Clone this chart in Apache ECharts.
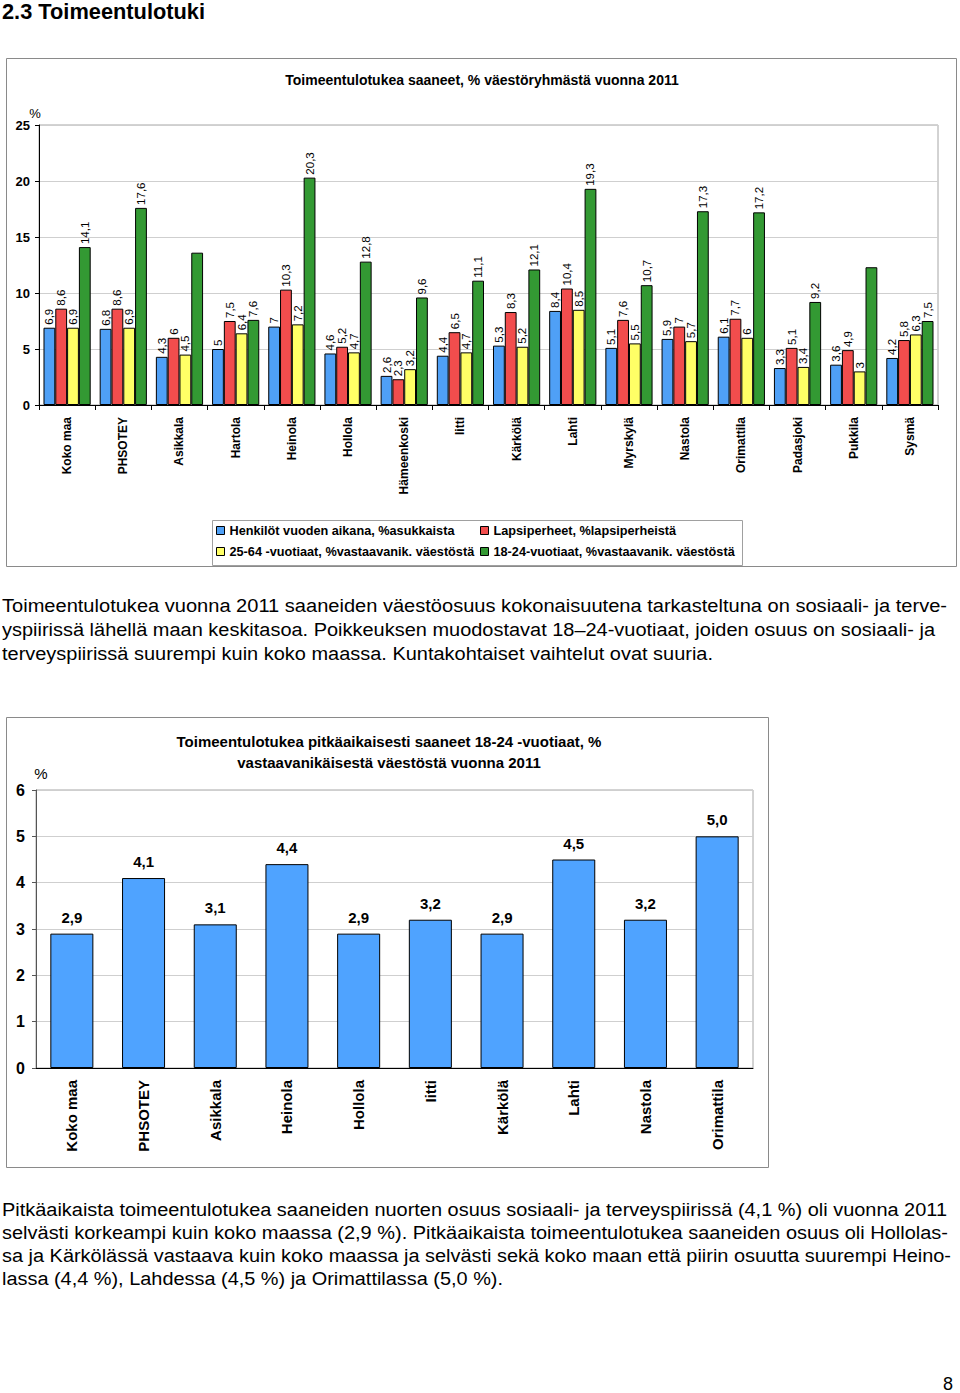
<!DOCTYPE html>
<html>
<head>
<meta charset="utf-8">
<script src="https://cdn.jsdelivr.net/npm/echarts@6/dist/echarts.min.js"></script>
<style>
  html, body { margin:0; padding:0; background:#fff; }
  body { width:960px; height:1393px; position:relative; overflow:hidden; font-family:'Liberation Sans', Arial, sans-serif; color:#000; }
  #chart { position:absolute; left:0; top:0; width:960px; height:1393px; }
  .t { position:absolute; white-space:nowrap; transform-origin:left top; line-height:20px; font-size:18px; z-index:2; }
  .h { font-weight:bold; font-size:22px; line-height:24px; }
</style>
</head>
<body>
<div id="chart"></div>
<div class="t h" style="left:2px;top:0px" data-w="203">2.3 Toimeentulotuki</div>

<div class="t" style="left:2px;top:596px" data-w="945">Toimeentulotukea vuonna 2011 saaneiden väestöosuus kokonaisuutena tarkasteltuna on sosiaali- ja terve-</div>
<div class="t" style="left:2px;top:620px" data-w="933">yspiirissä lähellä maan keskitasoa. Poikkeuksen muodostavat 18–24-vuotiaat, joiden osuus on sosiaali- ja</div>
<div class="t" style="left:2px;top:644px" data-w="711">terveyspiirissä suurempi kuin koko maassa. Kuntakohtaiset vaihtelut ovat suuria.</div>

<div class="t" style="left:2px;top:1200px" data-w="945">Pitkäaikaista toimeentulotukea saaneiden nuorten osuus sosiaali- ja terveyspiirissä (4,1 %) oli vuonna 2011</div>
<div class="t" style="left:2px;top:1223px" data-w="946">selvästi korkeampi kuin koko maassa (2,9 %). Pitkäaikaista toimeentulotukea saaneiden osuus oli Hollolas-</div>
<div class="t" style="left:2px;top:1246px" data-w="949">sa ja Kärkölässä vastaava kuin koko maassa ja selvästi sekä koko maan että piirin osuutta suurempi Heino-</div>
<div class="t" style="left:2px;top:1269px" data-w="501">lassa (4,4 %), Lahdessa (4,5 %) ja Orimattilassa (5,0 %).</div>

<div class="t" style="left:943px;top:1374px">8</div>

<script>
// ---------- Data ----------
const categories1 = ['Koko maa','PHSOTEY','Asikkala','Hartola','Heinola','Hollola','Hämeenkoski','Iitti','Kärkölä','Lahti','Myrskylä','Nastola','Orimattila','Padasjoki','Pukkila','Sysmä'];
const henkilot     = [6.9, 6.8, 4.3, 5,   7,    4.6, 2.6, 4.4, 5.3, 8.4, 5.1, 5.9, 6.1, 3.3, 3.6, 4.2];
const lapsiperheet = [8.6, 8.6, 6,   7.5, 10.3, 5.2, 2.3, 6.5, 8.3, 10.4, 7.6, 7,  7.7, 5.1, 4.9, 5.8];
const aikuiset     = [6.9, 6.9, 4.5, 6.4, 7.2,  4.7, 3.2, 4.7, 5.2, 8.5, 5.5, 5.7, 6,   3.4, 3,   6.3];
const nuoret       = [14.1, 17.6, 13.6, 7.6, 20.3, 12.8, 9.6, 11.1, 12.1, 19.3, 10.7, 17.3, 17.2, 9.2, 12.3, 7.5];
const nuoretLabelShown = [true, true, false, true, true, true, true, true, true, true, true, true, true, true, false, true];
const seriesNames1 = ['Henkilöt vuoden aikana, %asukkaista','Lapsiperheet, %lapsiperheistä','25-64 -vuotiaat, %vastaavanik. väestöstä','18-24-vuotiaat, %vastaavanik. väestöstä'];
const yTicks1 = [0, 5, 10, 15, 20, 25];

const categories2 = ['Koko maa','PHSOTEY','Asikkala','Heinola','Hollola','Iitti','Kärkölä','Lahti','Nastola','Orimattila'];
const pitkaaikaiset = [2.9, 4.1, 3.1, 4.4, 2.9, 3.2, 2.9, 4.5, 3.2, 5.0];
const yTicks2 = [0, 1, 2, 3, 4, 5, 6];

// ---------- Styles ----------
const FONT = 'Liberation Sans';
const colors1 = ['#4FA0F6', '#F24D4D', '#FFFF66', '#339933'];
const blue2 = '#4FA3FF';
const fmt1 = v => String(v).replace('.', ',');
const fmt2 = v => v.toFixed(1).replace('.', ',');

const chart = echarts.init(document.getElementById('chart'), null, {renderer: 'svg'});

const barLabel1 = {
  show: true, position: 'top', rotate: 90, align: 'left', verticalAlign: 'middle',
  distance: 3, fontSize: 11.5, color: '#000', fontFamily: FONT,
  formatter: p => fmt1(p.value)
};

function bar1(name, values, idx, labelShown) {
  return {
    name, type: 'bar', xAxisIndex: 0, yAxisIndex: 0,
    barGap: '0%', barCategoryGap: '16%',
    itemStyle: {color: colors1[idx], borderColor: '#000', borderWidth: 1},
    label: barLabel1,
    emphasis: {disabled: true},
    data: values.map((v, i) => (labelShown && !labelShown[i]) ? {value: v, label: {show: false}} : v)
  };
}

const legendPos = [[216, 524], [480, 524], [216, 545], [480, 545]];

const option = {
  animation: false,
  textStyle: {fontFamily: FONT},
  grid: [
    {left: 39, top: 125, width: 899, height: 280, show: true, borderColor: '#a6a6a6', borderWidth: 1, backgroundColor: 'transparent'},
    {left: 36, top: 790, width: 717, height: 278, show: true, borderColor: '#a6a6a6', borderWidth: 1, backgroundColor: 'transparent'}
  ],
  xAxis: [
    {type: 'category', gridIndex: 0, data: categories1, boundaryGap: true,
     axisLine: {show: true, lineStyle: {color: '#000', width: 1}},
     axisTick: {show: true, alignWithLabel: false, length: 5, lineStyle: {color: '#000'}},
     axisLabel: {interval: 0, rotate: 90, margin: 12, fontSize: 12, fontWeight: 'bold', color: '#000'}},
    {type: 'category', gridIndex: 1, data: categories2, boundaryGap: true,
     axisLine: {show: true, lineStyle: {color: '#000', width: 1}},
     axisTick: {show: false},
     axisLabel: {interval: 0, rotate: 90, margin: 12, fontSize: 15, fontWeight: 'bold', color: '#000'}}
  ],
  yAxis: [
    {type: 'value', gridIndex: 0, min: yTicks1[0], max: yTicks1[yTicks1.length - 1], interval: 5,
     axisLine: {show: true, lineStyle: {color: '#000'}},
     axisTick: {show: true, length: 4, lineStyle: {color: '#000'}},
     splitLine: {show: true, lineStyle: {color: '#cfcfcf', width: 1}},
     axisLabel: {margin: 9, fontSize: 13, fontWeight: 'bold', color: '#000'}},
    {type: 'value', gridIndex: 1, min: yTicks2[0], max: yTicks2[yTicks2.length - 1], interval: 1,
     axisLine: {show: true, lineStyle: {color: '#555'}},
     axisTick: {show: true, length: 4, lineStyle: {color: '#555'}},
     splitLine: {show: true, lineStyle: {color: '#cfcfcf', width: 1}},
     axisLabel: {margin: 11, fontSize: 16, fontWeight: 'bold', color: '#000'}}
  ],
  legend: seriesNames1.map((n, i) => ({
    data: [n], left: legendPos[i][0], top: legendPos[i][1], padding: 0,
    itemWidth: 8, itemHeight: 8, icon: 'rect', selectedMode: false,
    itemStyle: {borderColor: '#000', borderWidth: 1},
    textStyle: {fontSize: 12.7, fontWeight: 'bold', color: '#000', fontFamily: FONT}
  })),
  graphic: [
    {type: 'rect', shape: {x: 6.5, y: 58.5, width: 950, height: 508}, style: {fill: 'none', stroke: '#8a8a8a', lineWidth: 1}, silent: true},
    {type: 'rect', shape: {x: 212.5, y: 520.5, width: 530, height: 45}, style: {fill: 'none', stroke: '#a0a0a0', lineWidth: 1}, silent: true},
    {type: 'text', style: {text: 'Toimeentulotukea saaneet, % väestöryhmästä vuonna 2011', x: 482, y: 80, align: 'center', verticalAlign: 'middle', textAlign: 'center', textVerticalAlign: 'middle', font: 'bold 14px "Liberation Sans"', fill: '#000'}},
    {type: 'text', style: {text: '%', x: 35, y: 113, align: 'center', verticalAlign: 'middle', textAlign: 'center', textVerticalAlign: 'middle', font: '13px "Liberation Sans"', fill: '#000'}},
    {type: 'rect', shape: {x: 6.5, y: 717.5, width: 762, height: 450}, style: {fill: 'none', stroke: '#8a8a8a', lineWidth: 1}, silent: true},
    {type: 'text', style: {text: 'Toimeentulotukea pitkäaikaisesti saaneet 18-24 -vuotiaat, %', x: 389, y: 741, align: 'center', verticalAlign: 'middle', textAlign: 'center', textVerticalAlign: 'middle', font: 'bold 15px "Liberation Sans"', fill: '#000'}},
    {type: 'text', style: {text: 'vastaavanikäisestä väestöstä vuonna 2011', x: 389, y: 762, align: 'center', verticalAlign: 'middle', textAlign: 'center', textVerticalAlign: 'middle', font: 'bold 15px "Liberation Sans"', fill: '#000'}},
    {type: 'text', style: {text: '%', x: 41, y: 773, align: 'center', verticalAlign: 'middle', textAlign: 'center', textVerticalAlign: 'middle', font: '15px "Liberation Sans"', fill: '#000'}}
  ],
  series: [
    bar1(seriesNames1[0], henkilot, 0),
    bar1(seriesNames1[1], lapsiperheet, 1),
    bar1(seriesNames1[2], aikuiset, 2),
    bar1(seriesNames1[3], nuoret, 3, nuoretLabelShown),
    {name: 'Pitkäaikaiset', type: 'bar', xAxisIndex: 1, yAxisIndex: 1, barCategoryGap: '40%',
     itemStyle: {color: blue2, borderColor: '#000', borderWidth: 1},
     label: {show: true, position: 'top', distance: 9, fontSize: 15, fontWeight: 'bold', color: '#000', fontFamily: FONT, formatter: p => fmt2(p.value)},
     emphasis: {disabled: true},
     data: pitkaaikaiset}
  ]
};
chart.setOption(option);

// fit paragraph lines to their widths
document.querySelectorAll('[data-w]').forEach(el => {
  const w = el.getBoundingClientRect().width;
  if (w > 0) el.style.transform = 'scaleX(' + (+el.dataset.w / w) + ')';
});
</script>
</body>
</html>
